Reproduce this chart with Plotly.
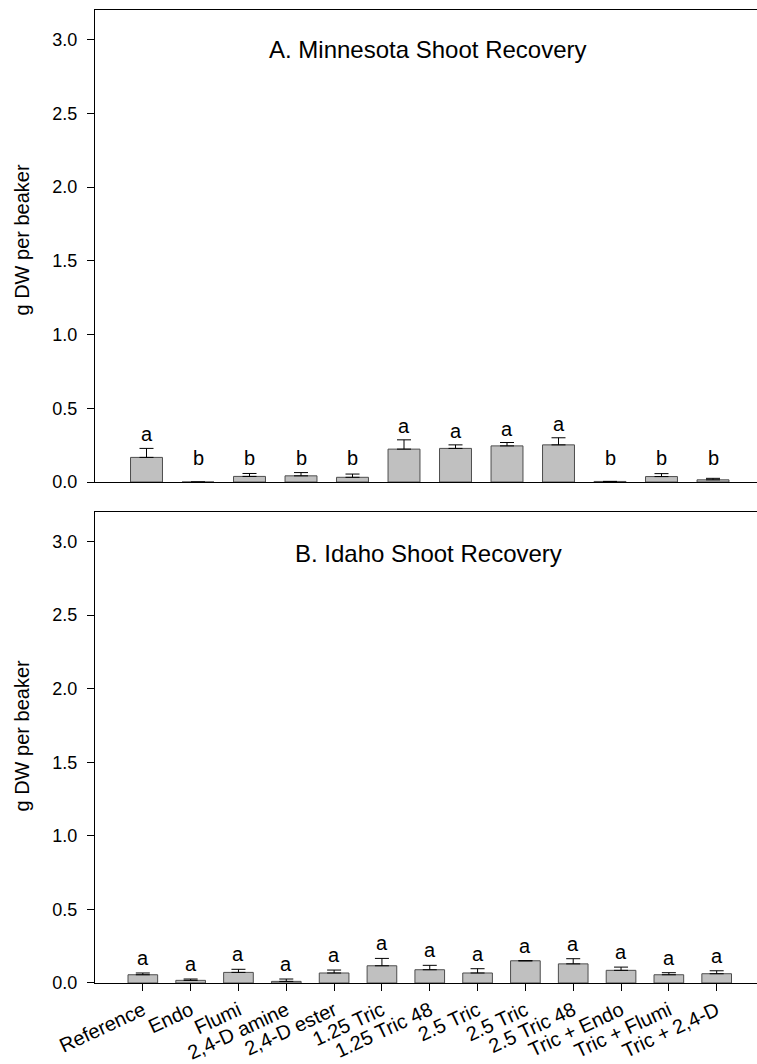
import plotly.graph_objects as go

# ---------------- data ----------------
cats_a = ["Reference", "Endo", "Flumi", "2,4-D amine", "2,4-D ester", "1.25 Tric",
          "1.25 Tric 48", "2.5 Tric", "2.5 Tric 48", "Tric + Endo", "Tric + Flumi",
          "Tric + 2,4-D"]
mean_a = [0.167, 0.0, 0.038, 0.042, 0.032, 0.223, 0.228, 0.245, 0.252, 0.004, 0.037, 0.015]
se_a = [0.061, 0.0, 0.02, 0.022, 0.022, 0.063, 0.024, 0.023, 0.048, 0.0, 0.02, 0.01]
let_a = ["a", "b", "b", "b", "b", "a", "a", "a", "a", "b", "b", "b"]

cats_b = ["Reference", "Endo", "Flumi", "2,4-D amine", "2,4-D ester", "1.25 Tric",
          "1.25 Tric 48", "2.5 Tric", "2.5 Tric ", "2.5 Tric 48", "Tric + Endo",
          "Tric + Flumi", "Tric + 2,4-D"]
tick_b = ["Reference", "Endo", "Flumi", "2,4-D amine", "2,4-D ester", "1.25 Tric",
          "1.25 Tric 48", "2.5 Tric", "2.5 Tric", "2.5 Tric 48", "Tric + Endo",
          "Tric + Flumi", "Tric + 2,4-D"]
mean_b = [0.056, 0.018, 0.072, 0.011, 0.068, 0.117, 0.090, 0.068, 0.151, 0.130, 0.086, 0.056, 0.063]
se_b = [0.012, 0.009, 0.021, 0.016, 0.020, 0.050, 0.030, 0.029, 0.0, 0.035, 0.022, 0.014, 0.020]
let_b = ["a"] * 13

title_a = "A. Minnesota Shoot Recovery"
title_b = "B. Idaho Shoot Recovery"
ylabel = "g DW per beaker"

# ---------------- styling ----------------
FONT = "Liberation Sans, Arial, sans-serif"
W, H = 757, 1064
ML, MR, MT, MB = 95, 0, 10, 79
plot_w = W - ML - MR
plot_h = H - MT - MB
full_w = 669.5  # width of the original plot area (cropped on the right)

def px_to_paper_y(py):
    return (H - MB - py) / plot_h

dom_a = [px_to_paper_y(483), 1.0]
dom_b = [0.0, px_to_paper_y(513)]

fig = go.Figure()

def add_panel(cats, mean, se, letters, xa, ya, floor, yshift):
    xs = list(range(len(cats)))
    fig.add_trace(go.Bar(
        x=xs, y=mean, width=0.62, xaxis=xa, yaxis=ya,
        marker=dict(color="#c0c0c0", line=dict(color="#4d4d4d", width=1)),
        error_y=dict(type="data", symmetric=False, array=se,
                     arrayminus=[0] * len(se), color="black", thickness=1, width=7,
                     visible=True),
        showlegend=False, hoverinfo="skip"))
    for i, (m, s, l) in enumerate(zip(mean, se, letters)):
        fig.add_annotation(x=i, y=max(m + s, floor), text=l, xref=xa, yref=ya,
                           showarrow=False, yanchor="bottom", yshift=yshift,
                           font=dict(family=FONT, size=20, color="black"))

add_panel(cats_a, mean_a, se_a, let_a, "x", "y", 0.068, 1)
add_panel(cats_b, mean_b, se_b, let_b, "x2", "y2", 0.03, 2)

n_a, n_b = len(cats_a), len(cats_b)
xr_a = [-1, -1 + plot_w / (full_w / (n_a + 1))]
xr_b = [-1, -1 + plot_w / (full_w / (n_b + 1))]

axis_common = dict(showline=True, linecolor="black", linewidth=1, showgrid=False,
                   zeroline=False)
yaxis_common = dict(axis_common, range=[0, 3.2], dtick=0.5, tick0=0, tickformat=".1f",
                    ticks="outside", ticklen=7, tickcolor="black", tickwidth=1,
                    ticklabelstandoff=6,
                    tickfont=dict(family=FONT, size=18, color="black"))

fig.update_layout(
    width=W, height=H,
    margin=dict(l=ML, r=MR, t=MT, b=MB),
    paper_bgcolor="white", plot_bgcolor="white",
    xaxis=dict(axis_common, domain=[0, 1], range=xr_a, anchor="y", mirror=True,
               showticklabels=False, ticks=""),
    yaxis=dict(yaxis_common, domain=dom_a, anchor="x"),
    xaxis2=dict(axis_common, domain=[0, 1], range=xr_b, anchor="y2", mirror=True,
                tickmode="array", tickvals=list(range(n_b)), ticktext=tick_b,
                ticks="outside", ticklen=7, tickcolor="black", tickwidth=1,
                tickangle=-25, tickfont=dict(family=FONT, size=20, color="black")),
    yaxis2=dict(yaxis_common, domain=dom_b, anchor="x2"),
)

def px_to_paper_x(px):
    return (px - ML) / plot_w

fig.add_annotation(x=px_to_paper_x(428), y=px_to_paper_y(50), xref="paper", yref="paper",
                   text=title_a, showarrow=False, xanchor="center", yanchor="middle",
                   font=dict(family=FONT, size=24, color="black"))
fig.add_annotation(x=px_to_paper_x(428), y=px_to_paper_y(555), xref="paper", yref="paper",
                   text=title_b, showarrow=False, xanchor="center", yanchor="middle",
                   font=dict(family=FONT, size=24, color="black"))
for yc in (240, 737):
    fig.add_annotation(x=px_to_paper_x(22), y=px_to_paper_y(yc), xref="paper", yref="paper",
                       text=ylabel, showarrow=False, textangle=-90,
                       xanchor="center", yanchor="middle",
                       font=dict(family=FONT, size=20, color="black"))

fig.write_html("out.html")
